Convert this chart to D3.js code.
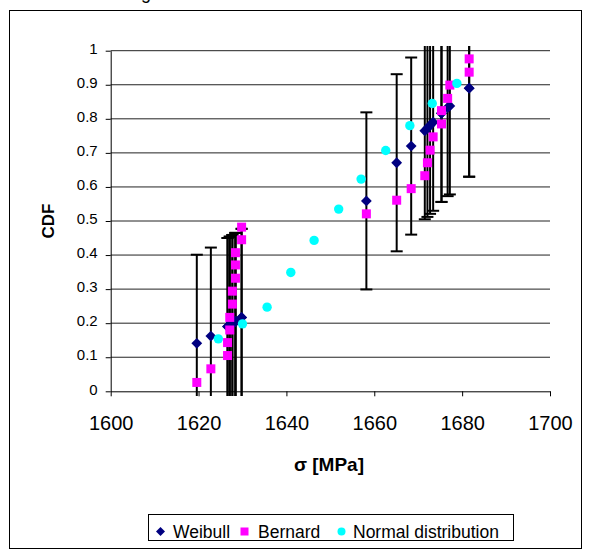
<!DOCTYPE html>
<html>
<head>
<meta charset="utf-8">
<script src="https://cdn.jsdelivr.net/npm/d3@7"></script>
<style>
    body { margin: 0; background: #fff; }
    text { font-family: "Liberation Sans", Arial, sans-serif; }
</style>
</head>
<body>
<div id="my_dataviz"></div>
<script>

// sorted sample stresses [MPa], one per specimen
const stress = [1619.6, 1622.8, 1626.6, 1626.6, 1627.1, 1627.1, 1627.7, 1627.7, 1628.4, 1628.4, 1628.4, 1629.8, 1629.8,
    1658.2, 1665.1, 1668.4, 1671.5, 1672.1, 1672.7, 1673.4, 1675.3, 1675.3, 1676.7, 1677.2, 1681.6, 1681.6];

// fitted weibull CDF at each stress, with +/- error
const weibullCdf = [0.141, 0.162, 0.19, 0.19, 0.194, 0.194, 0.199, 0.199, 0.205, 0.205, 0.205, 0.217, 0.217,
    0.559, 0.671, 0.72, 0.765, 0.772, 0.781, 0.79, 0.816, 0.816, 0.833, 0.838, 0.89, 0.89];
const weibullErr = 0.26;

// bernard median ranks
const bernardCdf = [0.026, 0.066, 0.105, 0.143, 0.18, 0.217, 0.256, 0.294, 0.332, 0.371, 0.407, 0.445, 0.482,
    0.521, 0.561, 0.595, 0.633, 0.671, 0.708, 0.747, 0.785, 0.824, 0.86, 0.899, 0.937, 0.976];

// normal distribution points
const normalStress = [1624.5, 1630.0, 1635.6, 1641.0, 1646.3, 1651.9, 1657.0, 1662.6, 1668.1, 1673.2, 1678.8];
const normalCdf = [0.154, 0.198, 0.247, 0.349, 0.443, 0.535, 0.623, 0.707, 0.78, 0.845, 0.904];

const xTicks = [1600, 1620, 1640, 1660, 1680, 1700];
const yTicks = [0, 0.1, 0.2, 0.3, 0.4, 0.5, 0.6, 0.7, 0.8, 0.9, 1];

const width = 592;
const height = 552;

const x = d3.scaleLinear().domain([1600, 1700]).range([110.7, 550]);
const y = d3.scaleLinear().domain([0, 1]).range([391.3, 50.7]);

const svg = d3.select('#my_dataviz')
    .append('svg')
    .attr('width', width)
    .attr('height', height);

// chart border
svg.append('rect')
    .attr('x', 9.5).attr('y', 10.5)
    .attr('width', 572).attr('height', 538)
    .attr('fill', 'none')
    .attr('stroke', 'black');

// leftover of a title cut off above the picture
svg.append('text')
    .attr('x', 141).attr('y', -1)
    .style('font-size', '18px')
    .text('g');

// clip for the error bars (plot area)
svg.append('clipPath').attr('id', 'plotClip')
    .append('rect')
    .attr('x', 100).attr('y', 46)
    .attr('width', 460).attr('height', 350);

// horizontal gridlines
svg.append('g')
    .selectAll('line')
    .data(yTicks.filter(d => d > 0))
    .enter()
    .append('line')
    .attr('x1', x(1600)).attr('x2', x(1700))
    .attr('y1', d => y(d)).attr('y2', d => y(d))
    .attr('stroke', '#222');

// axes
const yAxis = svg.append('g')
    .attr('transform', `translate(${x(1600)},0)`)
    .call(d3.axisLeft(y).tickValues(yTicks).tickSize(5).tickSizeOuter(0).tickPadding(8)
        .tickFormat(d => (d === 0 || d === 1) ? String(d) : d.toFixed(1)));
yAxis.selectAll('text')
    .attr('dy', '0.18em')
    .style('font-size', '15px')
    .attr('fill', 'black');

const xAxis = svg.append('g')
    .attr('transform', `translate(0,${y(0)})`)
    .call(d3.axisBottom(x).tickValues(xTicks).tickSize(5).tickSizeOuter(0).tickPadding(19.5)
        .tickFormat(d3.format('d')));
xAxis.selectAll('text')
    .style('font-size', '20px')
    .attr('fill', 'black');

svg.selectAll('.domain, .tick line').attr('stroke', 'black');

// axis titles
svg.append('text')
    .attr('transform', `translate(54,${y(0.5)}) rotate(-90)`)
    .style('text-anchor', 'middle')
    .style('font-size', '17px')
    .style('font-weight', 'bold')
    .text('CDF');

svg.append('text')
    .attr('x', 329).attr('y', 471)
    .style('text-anchor', 'middle')
    .style('font-size', '19px')
    .style('font-weight', 'bold')
    .text('σ [MPa]');

// weibull error bars
const weibull = stress.map((s, i) => ({ s: s, v: weibullCdf[i] }));

const bars = svg.append('g')
    .attr('clip-path', 'url(#plotClip)')
    .selectAll('g')
    .data(weibull)
    .enter()
    .append('g')
    .attr('stroke', 'black')
    .attr('stroke-width', 2);

bars.append('line')
    .attr('x1', d => x(d.s)).attr('x2', d => x(d.s))
    .attr('y1', d => y(d.v - weibullErr)).attr('y2', d => y(d.v + weibullErr));
bars.append('line')
    .attr('x1', d => x(d.s) - 6).attr('x2', d => x(d.s) + 6)
    .attr('y1', d => y(d.v - weibullErr)).attr('y2', d => y(d.v - weibullErr));
bars.append('line')
    .attr('x1', d => x(d.s) - 6).attr('x2', d => x(d.s) + 6)
    .attr('y1', d => y(d.v + weibullErr)).attr('y2', d => y(d.v + weibullErr));

// markers
const diamond = r => `M0,${-r}L${r},0L0,${r}L${-r},0Z`;

svg.append('g')
    .selectAll('path')
    .data(weibull)
    .enter()
    .append('path')
    .attr('d', diamond(5.4))
    .attr('transform', d => `translate(${x(d.s)},${y(d.v)})`)
    .attr('fill', '#000080');

svg.append('g')
    .selectAll('rect')
    .data(stress.map((s, i) => ({ s: s, v: bernardCdf[i] })))
    .enter()
    .append('rect')
    .attr('x', d => x(d.s) - 4.5).attr('y', d => y(d.v) - 4.5)
    .attr('width', 9).attr('height', 9)
    .attr('fill', '#FF00FF');

svg.append('g')
    .selectAll('circle')
    .data(normalStress.map((s, i) => ({ s: s, v: normalCdf[i] })))
    .enter()
    .append('circle')
    .attr('cx', d => x(d.s)).attr('cy', d => y(d.v))
    .attr('r', 4.7)
    .attr('fill', '#00FFFF');

// legend
const legend = svg.append('g').attr('transform', 'translate(148.5,514.5)');
legend.append('rect')
    .attr('width', 365).attr('height', 26)
    .attr('fill', 'white')
    .attr('stroke', 'black');

const legendItems = [
    { label: 'Weibull', mx: 12, tx: 24.5 },
    { label: 'Bernard', mx: 96, tx: 109.5 },
    { label: 'Normal distribution', mx: 193, tx: 204.5 }
];

legend.append('path')
    .attr('d', diamond(4.5))
    .attr('transform', `translate(${legendItems[0].mx},17)`)
    .attr('fill', '#000080');
legend.append('rect')
    .attr('x', legendItems[1].mx - 4).attr('y', 13)
    .attr('width', 8).attr('height', 8)
    .attr('fill', '#FF00FF');
legend.append('circle')
    .attr('cx', legendItems[2].mx).attr('cy', 17)
    .attr('r', 4)
    .attr('fill', '#00FFFF');

legend.selectAll('.lbl')
    .data(legendItems)
    .enter()
    .append('text')
    .attr('class', 'lbl')
    .attr('x', d => d.tx).attr('y', 23)
    .style('font-size', '17.5px')
    .text(d => d.label);

</script>
</body>
</html>
